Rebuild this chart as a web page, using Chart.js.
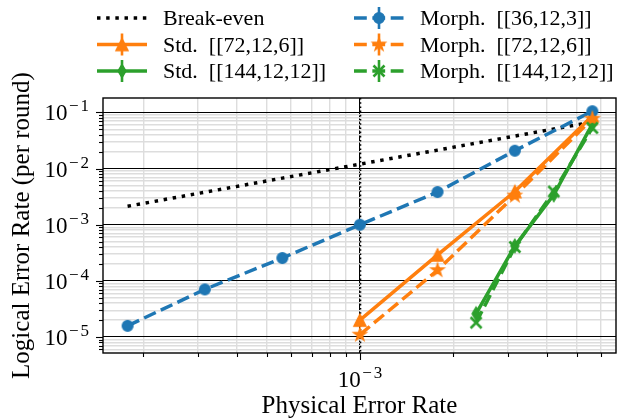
<!DOCTYPE html>
<html>
<head>
<meta charset="utf-8">
<title>Logical vs physical error rate</title>
<script src="https://cdn.jsdelivr.net/npm/chart.js@4.4.1/dist/chart.umd.min.js"></script>
<style>
  html, body { margin: 0; padding: 0; background: #ffffff; }
  canvas { display: block; }
</style>
</head>
<body>
<canvas id="chart" width="618" height="418"></canvas>
<script>
// Logical error rate per round vs physical error rate (log-log)

// Physical error rates (x values)
const pMorph = [1.78e-4, 3.16e-4, 5.62e-4, 1.0e-3, 1.78e-3, 3.16e-3, 5.62e-3];
const pStd72 = [1.0e-3, 1.78e-3, 3.16e-3, 5.62e-3];
const pStd144 = [2.37e-3, 3.16e-3, 4.22e-3, 5.62e-3];

// Logical error rates (y values)
const breakEven = [2.13e-3, 3.79e-3, 6.75e-3, 1.2e-2, 2.13e-2, 3.79e-2, 6.75e-2];
const morph36 = [1.58e-5, 7.05e-5, 2.55e-4, 1.0e-3, 3.82e-3, 2.08e-2, 1.05e-1];
const std72 = [2.0e-5, 2.9e-4, 3.9e-3, 8.7e-2];
const morph72 = [1.1e-5, 1.55e-4, 3.3e-3, 7.7e-2];
const std144 = [2.6e-5, 4.2e-4, 3.4e-3, 6.2e-2];
const morph144 = [1.8e-5, 4.0e-4, 3.9e-3, 5.3e-2];

// Series labels
const labels = ['Break-even', 'Std.  [[72,12,6]]', 'Std.  [[144,12,12]]',
                'Morph.  [[36,12,3]]', 'Morph.  [[72,12,6]]', 'Morph.  [[144,12,12]]'];

// Axis labels and decade ticks (exponents)
const xTitle = 'Physical Error Rate';
const yTitle = 'Logical Error Rate (per round)';
const xMajorTicks = [1e-3];
const xMajorLabels = ['3'];
const yMajorTicks = [1e-5, 1e-4, 1e-3, 1e-2, 1e-1];
const yMajorLabels = ['5', '4', '3', '2', '1'];
const xRange = [1.483e-4, 6.70e-3];
const yRange = [5.19e-6, 0.1805];
const thresholdP = 1e-3;

const FONT = '"Liberation Serif", "DejaVu Serif", serif';
const BLUE = '#1f77b4', ORANGE = '#ff7f0e', GREEN = '#2ca02c';
const LW = 3.47;
const DASH = [12.8, 5.55];
const DOT = [3.47, 5.7];

function isDecade(v) {
    const l = Math.log10(v);
    return Math.abs(l - Math.round(l)) < 1e-6;
}

// minor + major tick values inside a range
function logTicks(range) {
    const out = [];
    const lo = Math.floor(Math.log10(range[0]));
    const hi = Math.ceil(Math.log10(range[1]));
    for (let d = lo; d <= hi; d++) {
        for (let m = 1; m <= 9; m++) {
            const v = m * Math.pow(10, d);
            if (v >= range[0] && v <= range[1]) out.push(v);
        }
    }
    return out;
}

// Marker images
function makeMarker(shape, color) {
    const c = document.createElement('canvas');
    c.width = 22; c.height = 22;
    const g = c.getContext('2d');
    g.translate(11, 11);
    g.fillStyle = color;
    g.strokeStyle = color;
    g.lineWidth = 1.2;
    g.lineJoin = 'miter';
    g.beginPath();
    if (shape === 'circle') {
        g.arc(0, 0, 5.4, 0, Math.PI * 2);
    } else if (shape === 'triangle') {
        g.moveTo(0, -6.2); g.lineTo(6.2, 6.2); g.lineTo(-6.2, 6.2); g.closePath();
    } else if (shape === 'star') {
        const R = 7, r = R * 0.382;
        for (let i = 0; i < 10; i++) {
            const a = -Math.PI / 2 + i * Math.PI / 5;
            const rr = i % 2 === 0 ? R : r;
            if (i === 0) g.moveTo(rr * Math.cos(a), rr * Math.sin(a));
            else g.lineTo(rr * Math.cos(a), rr * Math.sin(a));
        }
        g.closePath();
    } else if (shape === 'diamond') {
        g.moveTo(0, -6.8); g.lineTo(4.1, 0); g.lineTo(0, 6.8); g.lineTo(-4.1, 0); g.closePath();
    } else if (shape === 'x') {
        g.lineWidth = 2.6;
        g.moveTo(-5.5, -5.5); g.lineTo(5.5, 5.5);
        g.moveTo(5.5, -5.5); g.lineTo(-5.5, 5.5);
        g.stroke();
        return c;
    }
    g.fill();
    g.stroke();
    return c;
}

function points(xs, ys) {
    return xs.map((x, i) => ({ x: x, y: ys[i] }));
}

// Plot order as in the figure (later series are on top)
const series = [
    { label: labels[0], x: pMorph, y: breakEven, color: '#000000', dash: DOT, marker: null, errbar: false },
    { label: labels[1], x: pStd72, y: std72, color: ORANGE, dash: [], marker: makeMarker('triangle', ORANGE), errbar: true },
    { label: labels[2], x: pStd144, y: std144, color: GREEN, dash: [], marker: makeMarker('diamond', GREEN), errbar: true },
    { label: labels[3], x: pMorph, y: morph36, color: BLUE, dash: DASH, marker: makeMarker('circle', BLUE), errbar: true },
    { label: labels[4], x: pStd72, y: morph72, color: ORANGE, dash: DASH, marker: makeMarker('star', ORANGE), errbar: true },
    { label: labels[5], x: pStd144, y: morph144, color: GREEN, dash: DASH, marker: makeMarker('x', GREEN), errbar: true }
];

const datasets = series.map((s, i) => ({
    label: s.label,
    data: points(s.x, s.y),
    borderColor: s.color,
    backgroundColor: s.color,
    borderWidth: LW,
    borderDash: s.dash,
    pointStyle: s.marker || 'circle',
    pointRadius: s.marker ? 6 : 0,
    pointHoverRadius: s.marker ? 6 : 0,
    tension: 0,
    fill: false,
    order: series.length - i
}));

// "10" with a superscript negative exponent; (x, baseline) is the left edge of "10"
const BIG = '23px ' + FONT, SMALL = '17px ' + FONT;
function powerWidth(ctx, exp) {
    ctx.font = BIG;
    const bw = ctx.measureText('10').width;
    ctx.font = SMALL;
    return bw + 1.5 + ctx.measureText('\u2212').width + 2 + ctx.measureText(exp).width;
}
function drawPower(ctx, exp, x, base) {
    ctx.textAlign = 'left';
    ctx.font = BIG;
    ctx.fillText('10', x, base);
    let cx = x + ctx.measureText('10').width + 1.5;
    ctx.font = SMALL;
    ctx.fillText('\u2212', cx, base - 9);
    cx += ctx.measureText('\u2212').width + 2;
    ctx.fillText(exp, cx, base - 9);
}

// Draws frame, tick marks, tick labels, titles, threshold line and legend
const decor = {
    id: 'decor',
    beforeDatasetsDraw(chart) {
        const { ctx, chartArea: a, scales } = chart;
        const px = Math.round(scales.x.getPixelForValue(thresholdP)) + 0.5;
        ctx.save();
        ctx.strokeStyle = '#000';
        ctx.lineWidth = 1.6;
        ctx.setLineDash([1.6, 2.6]);
        ctx.beginPath();
        ctx.moveTo(px, a.top);
        ctx.lineTo(px, a.bottom);
        ctx.stroke();
        ctx.restore();
    },
    afterDatasetsDraw(chart) {
        const { ctx, chartArea: a, scales } = chart;
        ctx.save();
        // frame
        ctx.strokeStyle = '#000';
        ctx.lineWidth = 1.4;
        ctx.strokeRect(a.left, a.top, a.right - a.left, a.bottom - a.top);

        // tick marks
        ctx.lineWidth = 1.1;
        scales.x.ticks.forEach(t => {
            const p = Math.round(scales.x.getPixelForValue(t.value)) + 0.5;
            const len = isDecade(t.value) ? 7 : 4;
            ctx.beginPath();
            ctx.moveTo(p, a.bottom);
            ctx.lineTo(p, a.bottom + len);
            ctx.stroke();
        });
        scales.y.ticks.forEach(t => {
            const p = Math.round(scales.y.getPixelForValue(t.value)) + 0.5;
            const len = isDecade(t.value) ? 7 : 4;
            ctx.beginPath();
            ctx.moveTo(a.left, p);
            ctx.lineTo(a.left - len, p);
            ctx.stroke();
        });

        // tick labels
        ctx.fillStyle = '#000';
        ctx.textBaseline = 'alphabetic';
        yMajorTicks.forEach((v, i) => {
            const p = scales.y.getPixelForValue(v);
            const w = powerWidth(ctx, yMajorLabels[i]);
            drawPower(ctx, yMajorLabels[i], a.left - 14 - w, p + 8);
        });
        xMajorTicks.forEach((v, i) => {
            const p = scales.x.getPixelForValue(v);
            const w = powerWidth(ctx, xMajorLabels[i]);
            drawPower(ctx, xMajorLabels[i], p - w / 2, a.bottom + 34);
        });

        // axis titles
        ctx.font = '25px ' + FONT;
        ctx.textAlign = 'center';
        ctx.fillText(xTitle, (a.left + a.right) / 2, 413);
        ctx.save();
        ctx.translate(29, (a.top + a.bottom) / 2);
        ctx.rotate(-Math.PI / 2);
        ctx.fillText(yTitle, 0, 0);
        ctx.restore();
        ctx.restore();
    },
    afterDraw(chart) {
        const ctx = chart.ctx;
        const cols = [97, 354];
        const rows = [18, 44.5, 71];
        ctx.save();
        series.forEach((s, i) => {
            const x0 = cols[Math.floor(i / 3)];
            const y = rows[i % 3];
            const x1 = x0 + 50;
            const xm = (x0 + x1) / 2;
            ctx.strokeStyle = s.color;
            ctx.lineWidth = LW;
            ctx.setLineDash(s.dash);
            ctx.beginPath();
            ctx.moveTo(x0, y);
            ctx.lineTo(x1, y);
            ctx.stroke();
            ctx.setLineDash([]);
            if (s.errbar) {
                ctx.lineWidth = 2.6;
                ctx.beginPath();
                ctx.moveTo(xm, y - 11);
                ctx.lineTo(xm, y + 11);
                ctx.stroke();
            }
            if (s.marker) {
                ctx.drawImage(s.marker, xm - s.marker.width / 2, y - s.marker.height / 2);
            }
            ctx.fillStyle = '#000';
            ctx.font = '22px ' + FONT;
            ctx.textAlign = 'left';
            ctx.textBaseline = 'alphabetic';
            ctx.fillText(s.label, x1 + 16, y + 7);
        });
        ctx.restore();
    }
};

function gridStyle() {
    return {
        drawTicks: false,
        color: c => isDecade(c.tick.value) ? '#000000' : '#dddddd',
        lineWidth: c => isDecade(c.tick.value) ? 1.1 : 1.4
    };
}

const chart = new Chart(document.getElementById('chart').getContext('2d'), {
    type: 'line',
    data: { datasets: datasets },
    options: {
        responsive: false,
        animation: false,
        layout: { autoPadding: false, padding: { top: 98, right: 2, left: 0, bottom: 0 } },
        plugins: {
            legend: { display: false },
            tooltip: { enabled: false }
        },
        scales: {
            x: {
                type: 'logarithmic',
                min: xRange[0],
                max: xRange[1],
                ticks: { display: false },
                border: { display: false },
                grid: gridStyle(),
                afterBuildTicks: s => { s.ticks = logTicks(xRange).map(v => ({ value: v })); },
                afterFit: s => { s.height = 65; }
            },
            y: {
                type: 'logarithmic',
                min: yRange[0],
                max: yRange[1],
                ticks: { display: false },
                border: { display: false },
                grid: gridStyle(),
                afterBuildTicks: s => { s.ticks = logTicks(yRange).map(v => ({ value: v })); },
                afterFit: s => { s.width = 103; }
            }
        }
    },
    plugins: [decor]
});
</script>
</body>
</html>
